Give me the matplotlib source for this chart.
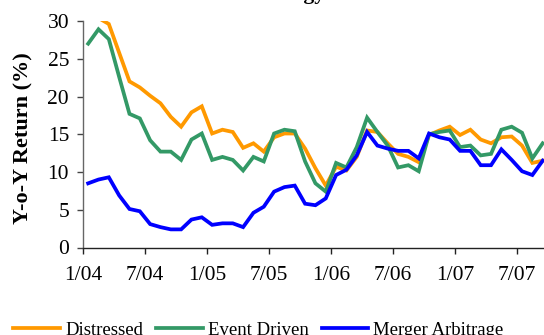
import matplotlib
matplotlib.use("Agg")
import matplotlib.pyplot as plt
import numpy as np

# Year-over-year returns (%), monthly from Jan 2004 to Sep 2007
tick_labels = ["1/04", "7/04", "1/05", "7/05", "1/06", "7/06", "1/07", "7/07"]
distressed = [31.0, 30.4, 29.6, 25.8, 22.0, 21.2, 20.1, 19.1, 17.3, 16.0,
              17.9, 18.7, 15.1, 15.6, 15.3, 13.2, 13.8, 12.7, 14.6, 15.1,
              15.1, 13.1, 10.5, 8.2, 10.7, 10.2, 12.0, 15.5, 15.3, 13.8,
              12.4, 12.0, 11.3, 14.9, 15.5, 16.0, 14.9, 15.6, 14.3, 13.8,
              14.6, 14.7, 13.5, 11.2, 11.5]
event_driven = [27.0, 28.9, 27.6, 22.6, 17.7, 17.1, 14.2, 12.7, 12.7, 11.6,
                14.3, 15.1, 11.6, 12.0, 11.6, 10.2, 12.0, 11.4, 15.1, 15.6,
                15.4, 11.4, 8.5, 7.4, 11.2, 10.6, 13.3, 17.2, 15.3, 13.5,
                10.6, 10.9, 10.1, 15.0, 15.3, 15.5, 13.3, 13.5, 12.2, 12.4,
                15.6, 16.0, 15.2, 11.8, 13.8]
merger_arbitrage = [8.5, 9.0, 9.3, 6.9, 5.1, 4.8, 3.1, 2.7, 2.4, 2.4,
                    3.7, 4.0, 3.0, 3.2, 3.2, 2.7, 4.6, 5.4, 7.4, 8.0,
                    8.2, 5.8, 5.6, 6.5, 9.6, 10.3, 12.2, 15.3, 13.5, 13.1,
                    12.8, 12.8, 11.8, 15.1, 14.6, 14.3, 12.8, 12.8, 10.9, 10.9,
                    13.0, 11.6, 10.1, 9.6, 11.5]

serif = ["Liberation Serif", "DejaVu Serif"]
plt.rcParams["font.family"] = serif

fig = plt.figure(figsize=(5.44, 3.35), dpi=100)
ax = fig.add_axes([83 / 544, 1 - 247.5 / 335, 1 - 83 / 544, (247.5 - 21) / 335])

x = np.arange(len(distressed)) + 0.5
lw = 2.7
ax.plot(x, distressed, color="#FF9900", lw=lw, label="Distressed", solid_joinstyle="miter")
ax.plot(x, event_driven, color="#339966", lw=lw, label="Event Driven", solid_joinstyle="miter")
ax.plot(x, merger_arbitrage, color="#0000FF", lw=lw, label="Merger Arbitrage", solid_joinstyle="miter")

ax.set_ylim(0, 30)
ax.set_xlim(0, (544 - 83) / 10.33)
ax.set_yticks(np.arange(0, 31, 5))
ax.set_xticks(np.arange(0, 6 * len(tick_labels), 6))
ax.set_xticklabels(tick_labels)

for s in ("top", "right"):
    ax.spines[s].set_visible(False)
ax.spines["left"].set_color("#666666")
ax.spines["bottom"].set_color("#222222")
ax.spines["left"].set_linewidth(1.0)
ax.spines["bottom"].set_linewidth(1.0)

ax.tick_params(axis="y", direction="out", length=4, width=1, color="#444444",
               labelsize=15.5, pad=6)
ax.tick_params(axis="x", direction="out", length=4, width=1, color="#222222",
               labelsize=15.5, pad=9)

ax.set_ylabel("Y-o-Y Return (%)", fontsize=16, fontweight="bold")
ax.yaxis.set_label_coords(-0.108, 0.483)

fig.text(325 / 544, 1.0 + 0.5 / 335, "Event-Driven Strategy", ha="right",
         va="baseline", fontsize=15.5, fontweight="bold")

fig.legend(loc="center", bbox_to_anchor=(0.475, 1 - 330 / 335), ncol=3,
           frameon=False, fontsize=13.5, handlelength=2.5, handletextpad=0.25,
           columnspacing=0.7)

fig.savefig("out.png", dpi=100)
